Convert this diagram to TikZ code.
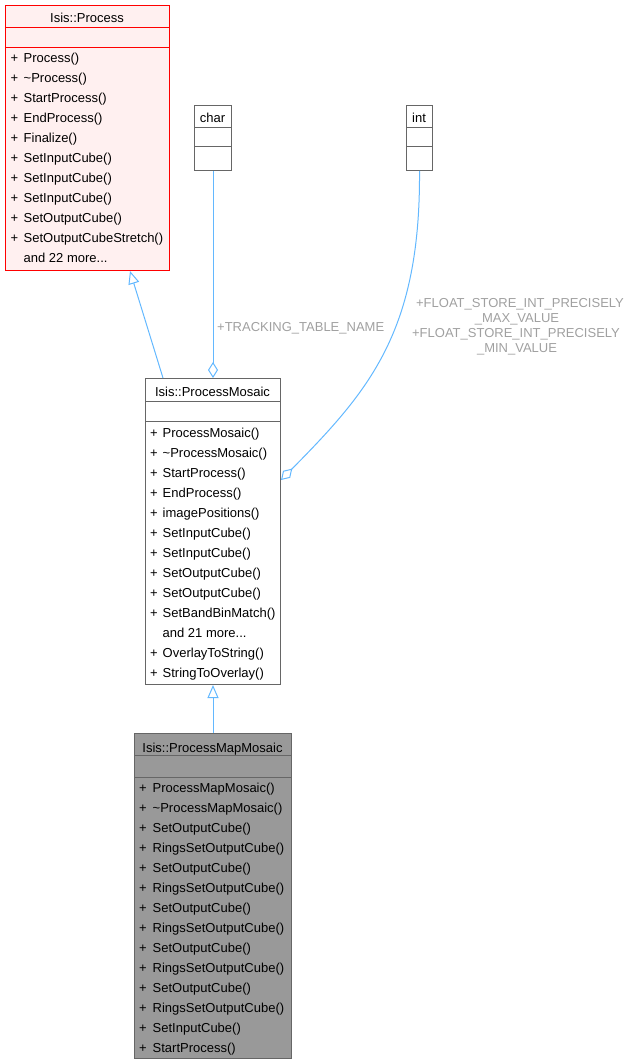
\documentclass[tikz,border=0pt]{standalone}
\usepackage{fontspec}
\setmainfont{Liberation Sans}
\usetikzlibrary{arrows.meta,calc}
\definecolor{edgeblue}{HTML}{63B8FF}
\definecolor{lblgray}{HTML}{A0A0A0}
\definecolor{boxgray}{HTML}{666666}
\definecolor{procfill}{HTML}{FFF0F0}
\definecolor{mapfill}{HTML}{999999}
\definecolor{procred}{HTML}{FF0000}
\newcommand\threedots{...}
\begin{document}
\begin{tikzpicture}[x=1pt,y=-1pt,
  classbox/.style={draw=boxgray, line width=1pt, fill=white, inner sep=0pt, anchor=north west},
  sep/.style={draw=boxgray, line width=1pt},
  mem/.style={anchor=base west, inner sep=0pt, font=\fontsize{13pt}{15pt}\selectfont},
  ttl/.style={anchor=base, inner sep=0pt, font=\fontsize{13pt}{15pt}\selectfont},
  lbl/.style={anchor=base, inner sep=0pt, text=lblgray, font=\fontsize{13pt}{15pt}\selectfont},
  inh/.style={draw=edgeblue, line width=1pt, -{Triangle[open, length=13pt, width=11pt]}},
  agg/.style={draw=edgeblue, line width=1pt, -{Diamond[open, length=16pt, width=10pt]}}]
\useasboundingbox (0,0) rectangle (631,1064);

% Isis::Process
\node[classbox, draw=procred, fill=procfill, minimum width=164pt, minimum height=265pt] (proc) at (5,5) {};
\draw[sep, draw=procred] ($(proc.north west)+(0,23)$) -- ($(proc.north east)+(0,23)$);
\draw[sep, draw=procred] ($(proc.north west)+(0,43)$) -- ($(proc.north east)+(0,43)$);
\node[ttl] (proct) at (87,23) {Isis::Process};
\foreach \t [count=\i from 0] in {Process(), \textasciitilde Process(), StartProcess(), EndProcess(), Finalize(), SetInputCube(), SetInputCube(), SetInputCube(), SetOutputCube(), SetOutputCubeStretch(), and 22 more\threedots}
  {\node[mem] (pm\i) at (23.5,63+20*\i) {\t};}
\foreach \i in {0,1,2,3,4,5,6,7,8,9}
  {\node[mem] (pp\i) at (10.5,63+20*\i) {+};}

% char
\node[classbox, minimum width=37pt, minimum height=65pt] (char) at (194,105) {};
\draw[sep] ($(char.north west)+(0,23)$) -- ($(char.north east)+(0,23)$);
\draw[sep] ($(char.north west)+(0,42)$) -- ($(char.north east)+(0,42)$);
\node[ttl] (chart) at (212.5,123) {char};

% int
\node[classbox, minimum width=26pt, minimum height=65pt] (int) at (406,105) {};
\draw[sep] ($(int.north west)+(0,23)$) -- ($(int.north east)+(0,23)$);
\draw[sep] ($(int.north west)+(0,42)$) -- ($(int.north east)+(0,42)$);
\node[ttl] (intt) at (419,123) {int};

% Isis::ProcessMosaic
\node[classbox, minimum width=135pt, minimum height=306pt] (mos) at (145,378) {};
\draw[sep] ($(mos.north west)+(0,23)$) -- ($(mos.north east)+(0,23)$);
\draw[sep] ($(mos.north west)+(0,43)$) -- ($(mos.north east)+(0,43)$);
\node[ttl] (most) at (212.5,396) {Isis::ProcessMosaic};
\foreach \t [count=\i from 0] in {ProcessMosaic(), \textasciitilde ProcessMosaic(), StartProcess(), EndProcess(), imagePositions(), SetInputCube(), SetInputCube(), SetOutputCube(), SetOutputCube(), SetBandBinMatch(), and 21 more\threedots, OverlayToString(), StringToOverlay()}
  {\node[mem] (mm\i) at (162.5,437+20*\i) {\t};}
\foreach \i in {0,1,2,3,4,5,6,7,8,9,11,12}
  {\node[mem] (mp\i) at (150,437+20*\i) {+};}

% Isis::ProcessMapMosaic
\node[classbox, fill=mapfill, minimum width=157pt, minimum height=325pt] (map) at (134,733) {};
\draw[sep] ($(map.north west)+(0,22)$) -- ($(map.north east)+(0,22)$);
\draw[sep] ($(map.north west)+(0,44)$) -- ($(map.north east)+(0,44)$);
\node[ttl] (mapt) at (212.5,752) {Isis::ProcessMapMosaic};
\foreach \t [count=\i from 0] in {ProcessMapMosaic(), \textasciitilde ProcessMapMosaic(), SetOutputCube(), RingsSetOutputCube(), SetOutputCube(), RingsSetOutputCube(), SetOutputCube(), RingsSetOutputCube(), SetOutputCube(), RingsSetOutputCube(), SetOutputCube(), RingsSetOutputCube(), SetInputCube(), StartProcess()}
  {\node[mem] (am\i) at (152.5,792+20*\i) {\t};}
\foreach \i in {0,1,2,3,4,5,6,7,8,9,10,11,12,13}
  {\node[mem] (ap\i) at (139,792+20*\i) {+};}

% connectors
\draw[inh] ($(mos.north west)+(18,0)$) -- ($(proc.south west)+(125,0)$);
\draw[agg] (char.south) -- (mos.north);
\coordinate (mosE) at ($(mos.north east)+(0,102)$);
\draw[agg] (int.south) .. controls ($(int.south)+(1,160)$) and (370,390) .. (mosE);
\draw[inh] (map.north) -- (mos.south);

% labels
\node[lbl, anchor=base west] (l1) at (217,331) {+TRACKING\_TABLE\_NAME};
\node[lbl] (l2) at (520,307) {+FLOAT\_STORE\_INT\_PRECISELY};
\node[lbl] (l3) at (517,322) {\_MAX\_VALUE};
\node[lbl] (l4) at (516,337) {+FLOAT\_STORE\_INT\_PRECISELY};
\node[lbl] (l5) at (517,352) {\_MIN\_VALUE};
\end{tikzpicture}
\end{document}
